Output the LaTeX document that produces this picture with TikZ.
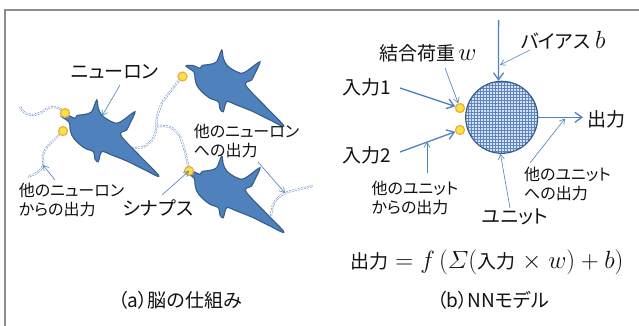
\documentclass[tikz,border=0pt]{standalone}
\usepackage{amsmath}
\usepackage[no-math]{fontspec}
\setmainfont{Noto Sans CJK JP}[RawFeature=+palt]
\usetikzlibrary{arrows.meta,patterns}

\definecolor{nblue}{HTML}{4F81BD}
\definecolor{nedge}{HTML}{385D8A}
\definecolor{axblue}{HTML}{5B86C4}
\definecolor{synfill}{HTML}{F2E44A}
\definecolor{synedge}{HTML}{F6A935}
\definecolor{unitbg}{HTML}{D6E1F1}
\definecolor{gridblue}{HTML}{5D85C3}
\definecolor{framegray}{HTML}{8C8C8C}
\definecolor{txt}{HTML}{111111}

% larger maths inside the Japanese labels
\newcommand\mth[1]{{\fontsize{23}{23}\selectfont$#1$}}

\tikzset{
  neuron/.style={fill=nblue, draw=nedge, line width=1.1pt},
  pics/neuroncell/.style={code={
    \path[neuron] plot[smooth cycle, tension=0.5] coordinates {
      (61,116) (68,115.5) (75,118.3) (77,115.5) (85,114.3) (91.7,111.7)
      (96.7,100) (98.3,108.3) (101.7,115) (108.3,120) (116.7,123.3)
      (123.3,120) (135,111.7) (130,123.3) (126.7,130) (121.7,136.7)
      (158.3,175) (145,170) (128.3,161.7) (111.7,155) (101.7,151.7)
      (98.3,161.7) (95,159) (93.3,151.7) (85,148.3) (76.7,141.7)
      (71.7,135) (70,128.3) (69,122)};
  }},
  synapse/.style={circle, fill=synfill, draw=synedge, line width=1.2pt,
    minimum size=9pt, inner sep=0pt},
  axon/.style={draw=axblue, double=white, double distance=1.1pt,
    line width=0.5pt, dash pattern=on 1.8pt off 1.2pt},
  unit/.style={circle, minimum size=72pt, inner sep=0pt, draw=nedge,
    line width=1.2pt, preaction={fill=unitbg}, pattern=grid,
    pattern color=gridblue},
  thickarrow/.style={draw=nblue, line width=1.3pt,
    -{Straight Barb[length=7pt,width=10pt]}},
  thinarrow/.style={draw=nblue, line width=0.6pt,
    -{Straight Barb[length=5pt,width=6pt]}},
  big/.style={text=txt, inner sep=0pt, font=\fontsize{19}{21}\selectfont},
  small/.style={text=txt, inner sep=0pt, align=left,
    font=\fontsize{16}{19}\selectfont},
}

\begin{document}
\begin{tikzpicture}[x=1pt, y=-1pt]
\useasboundingbox (0,0) rectangle (639,325);
\fill[white] (0,0) rectangle (639,325);

% frame
\draw[framegray, line width=1.6pt] (5,330) -- (5,10) -- (645,10);

% ---------- (a) brain ----------
% axons
\draw[axon] plot[smooth] coordinates {(20,107) (25,113) (33,115) (42,112) (48,108) (55,107) (62,110)};
\draw[axon] plot[smooth] coordinates {(60,134) (53,141) (47,147) (43,155) (43,166) (38,172) (28,177)};
\draw[axon] plot[smooth] coordinates {(132,148) (143,147) (152,140) (156,130) (157,117) (162,103) (170,92) (177,83) (182,77)};
\draw[axon] plot[smooth] coordinates {(157,126) (170,127) (179,135) (184,148) (187,160) (189,170)};
\draw[axon] plot[smooth] coordinates {(271,216) (273,205) (278,198) (285,193) (295,190) (304,188) (313,186)};

% neuron cells
\pic at (0,0) {neuroncell};
\pic at (125,-50) {neuroncell};
\pic at (125,56) {neuroncell};

% synapses
\node[synapse] (syna1) at (65,113) {};
\node[synapse] (syna2) at (63,131) {};
\node[synapse] (syna3) at (182.5,76.5) {};
\node[synapse] (syna4) at (189,171) {};

% labels
\node[big] (lneuron) at (115,72) {ニューロン};
\node[small] (lfrom) at (71.5,199.5) {他のニューロン\\からの出力};
\node[big] (lsyn) at (158,208) {シナプス};
\node[small] (lto) at (246.5,141) {他のニューロン\\への出力};
\node[big] (capa) at (180,300) {（a）脳の仕組み};

\coordinate (an1) at (120,85);  \coordinate (an2) at (102,116);
\coordinate (af1) at (55,180);  \coordinate (af2) at (43,165);
\coordinate (as1) at (162,195);
\coordinate (at1) at (258,162); \coordinate (at2) at (285,193);
\draw[thinarrow] (an1) -- (an2);
\draw[thinarrow] (af1) -- (af2);
\draw[thinarrow] (as1) -- (syna4.center);
\draw[thinarrow] (at1) -- (at2);

% ---------- (b) NN model ----------
\node[unit] (unit) at (501.7,117.3) {};
\node[synapse] (synb1) at (460,108) {};
\node[synapse] (synb2) at (460,130) {};

\node[big] (lbias) at (563,40) {バイアス\hspace{5pt}\mth{b}};
\node[big] (lw) at (428,53) {結合荷重\hspace{3pt}\mth{w}};
\node[big] (lin1) at (367,87) {入力1};
\node[big] (lin2) at (367,155) {入力2};
\node[big] (lout) at (606,119) {出力};
\node[small] (lfromu) at (415,197.5) {他のユニット\\からの出力};
\node[small] (ltou) at (567.5,184) {他のユニット\\への出力};
\node[big] (lunit) at (515,217) {ユニット};
\node[big] (formula) at (487,262) {出力\mth{\;=f\,(\varSigma(}入力\mth{\;\times\;w)+b)}};
\node[big] (capb) at (493,300) {（b）NNモデル};

\coordinate (btop) at (498.6,20);
\coordinate (i1) at (400,88);
\coordinate (i2) at (400,152);
\coordinate (oend) at (583,117.3);
\draw[thickarrow] (btop) -- (unit.95);
\draw[thickarrow] (i1) -- (synb1);
\draw[thickarrow] (i2) -- (synb2);
\draw[thickarrow] (unit.east) -- (oend);

\coordinate (tb) at (530,50);   \coordinate (tb2) at (500,65);
\coordinate (tw) at (445,68);
\coordinate (tf1) at (427,173); \coordinate (tf2) at (427,142);
\coordinate (to1) at (530,163); \coordinate (to2) at (565,118.5);
\coordinate (tu) at (510,208);
\draw[thinarrow] (tb) -- (tb2);
\draw[thinarrow] (tw) -- (synb1);
\draw[thinarrow] (tf1) -- (tf2);
\draw[thinarrow] (to1) -- (to2);
\draw[thinarrow] (tu) -- (unit.268);
\end{tikzpicture}
\end{document}
